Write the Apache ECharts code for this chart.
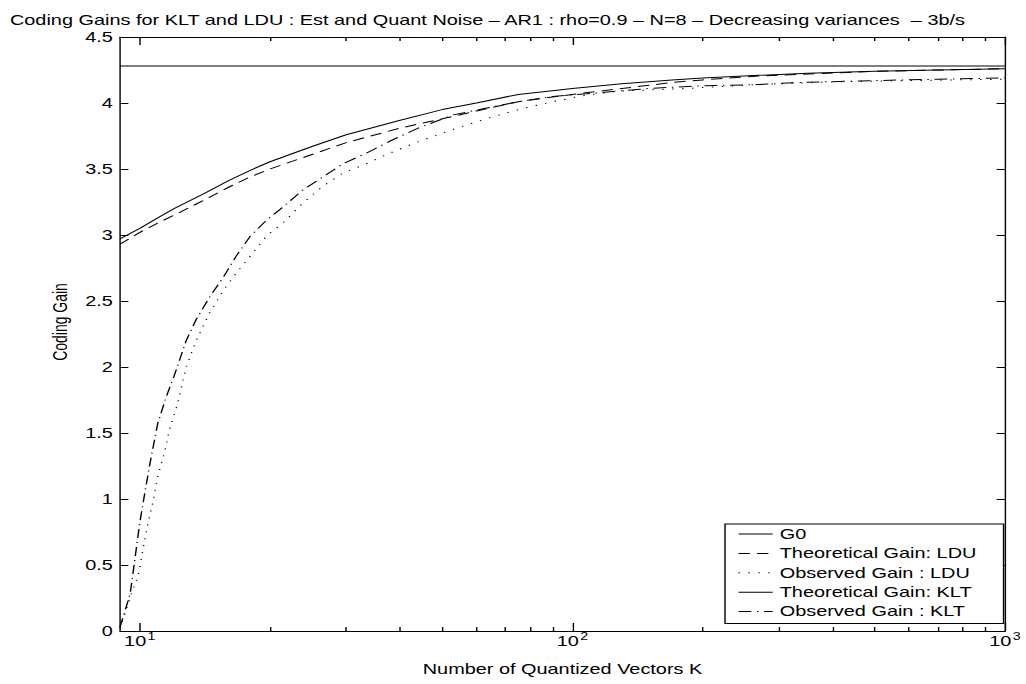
<!DOCTYPE html>
<html>
<head>
<meta charset="utf-8">
<title>Coding Gains for KLT and LDU</title>
<script src="https://cdn.jsdelivr.net/npm/echarts@6/dist/echarts.min.js"></script>
<style>
  html, body { margin: 0; padding: 0; background: #fff; overflow: hidden; }
  /* the figure is laid out on a narrower canvas and widened horizontally */
  #chart { width: 722px; height: 684px; transform: scaleX(1.42105); transform-origin: 0 0; }
</style>
</head>
<body>
<div id="chart"></div>
<script>
// ---- tick positions on the K axis ----
const kTicksMajor = [10, 100, 1000];
const kTicksMinor = [20, 30, 40, 50, 60, 70, 80, 90, 200, 300, 400, 500, 600, 700, 800, 900];

// ---- series names ----
const seriesNames = ['G0', 'Theoretical Gain: LDU', 'Observed Gain : LDU', 'Theoretical Gain: KLT', 'Observed Gain : KLT'];

// ---- G0 reference level ----
const kG0 = [9, 1000];
const gainG0 = [4.28, 4.28];

// ---- theoretical gains ----
const kTheory = [9, 10, 11, 12, 14, 16, 18, 20, 25, 30, 40, 50, 60, 75, 100, 130, 170, 200, 270, 350, 500, 700, 1000];
const gainKltTheory = [2.97, 3.05, 3.13, 3.20, 3.31, 3.41, 3.49, 3.555, 3.67, 3.76, 3.87, 3.95, 4.00, 4.065, 4.11, 4.145, 4.175, 4.19, 4.21, 4.225, 4.24, 4.25, 4.26];
const gainLduTheory = [2.93, 3.02, 3.09, 3.15, 3.26, 3.36, 3.44, 3.50, 3.61, 3.70, 3.81, 3.88, 3.94, 4.01, 4.065, 4.11, 4.155, 4.175, 4.205, 4.22, 4.24, 4.25, 4.26];

// ---- observed gain, KLT ----
const kObsKlt = [9, 9.5, 10, 10.3, 10.6, 11, 11.5, 12, 12.8, 13.5, 14.5, 15.6, 16.7, 18, 19.6, 21.4, 23.8, 26.5, 29.5, 33.4, 37.8, 44, 53, 63, 75, 90, 108, 150, 200, 270, 330, 500, 700, 1000];
const gainObsKlt = [0.03, 0.28, 0.82, 1.07, 1.30, 1.57, 1.77, 1.93, 2.20, 2.36, 2.53, 2.68, 2.84, 2.99, 3.11, 3.21, 3.34, 3.44, 3.54, 3.62, 3.71, 3.81, 3.91, 3.96, 4.01, 4.05, 4.07, 4.11, 4.13, 4.14, 4.155, 4.17, 4.18, 4.19];

// ---- observed gain, LDU ----
const kObsLdu = [9, 9.6, 9.9, 10.2, 10.45, 10.75, 11, 11.4, 11.7, 12.2, 12.8, 13.5, 14.5, 15.6, 16.7, 18, 19.6, 21.4, 23.8, 26.5, 29.5, 33.4, 37.8, 43.5, 53, 63, 75, 90, 108, 128, 153, 183, 270, 400, 600, 1000];
const gainObsLdu = [0.02, 0.30, 0.41, 0.64, 0.82, 0.99, 1.17, 1.35, 1.52, 1.71, 2.00, 2.20, 2.41, 2.58, 2.71, 2.84, 2.99, 3.09, 3.24, 3.37, 3.47, 3.54, 3.62, 3.70, 3.80, 3.88, 3.95, 4.01, 4.06, 4.09, 4.10, 4.11, 4.14, 4.16, 4.17, 4.18];

const FONT = "'Liberation Sans', Arial, Helvetica, sans-serif";
const BLACK = '#000';

function pairs(xs, ys) { return xs.map((x, i) => [x, ys[i]]); }

const chart = echarts.init(document.getElementById('chart'), null, { renderer: 'svg' });

const axisLineStyle = { color: BLACK, width: 1 };

function kAxis(position, ticks, tickLen, withLabels) {
  const ax = {
    type: 'log',
    logBase: 10,
    min: 9,
    max: 1000,
    position: position,
    axisLine: { show: tickLen > 5, onZero: false, lineStyle: axisLineStyle },
    axisTick: { show: true, inside: true, length: tickLen, customValues: ticks, lineStyle: axisLineStyle },
    axisLabel: { show: false },
    splitLine: { show: false },
    minorTick: { show: false }
  };
  if (withLabels) {
    ax.name = 'Number of Quantized Vectors K';
    ax.nameLocation = 'middle';
    ax.nameGap = 31;
    ax.nameTextStyle = { fontSize: 14, color: BLACK, fontFamily: FONT };
    ax.axisLabel = {
      show: true,
      customValues: ticks,
      margin: 1,
      formatter: function (v) {
        const e = Math.round(Math.log10(v));
        return '{b|10}{s|' + e + '}';
      },
      rich: {
        b: { fontSize: 14, lineHeight: 14, padding: [5, 0, 0, 0], color: BLACK, fontFamily: FONT },
        s: { fontSize: 10, lineHeight: 10, verticalAlign: 'top', padding: [0, 0, 0, 1], color: BLACK, fontFamily: FONT }
      }
    };
  }
  return ax;
}

function gainAxis(position, withLabels) {
  const ax = {
    type: 'value',
    min: 0,
    max: 4.5,
    interval: 0.5,
    position: position,
    axisLine: { show: true, onZero: false, lineStyle: axisLineStyle },
    axisTick: { show: true, inside: true, length: 5.9, lineStyle: axisLineStyle },
    axisLabel: { show: false },
    splitLine: { show: false }
  };
  if (withLabels) {
    ax.name = 'Coding Gain';
    ax.nameLocation = 'middle';
    ax.nameGap = 35;
    ax.nameTextStyle = { fontSize: 14, color: BLACK, fontFamily: FONT, padding: [0, 0, 0, 24] };
    ax.axisLabel = { show: true, margin: 5, fontSize: 14, color: BLACK, fontFamily: FONT };
  }
  return ax;
}

function lineSeries(name, data, dash) {
  return {
    name: name,
    type: 'line',
    xAxisIndex: 0,
    yAxisIndex: 0,
    data: data,
    symbol: 'none',
    showSymbol: false,
    smooth: false,
    lineStyle: { color: BLACK, width: 1, type: dash },
    itemStyle: { color: BLACK },
    emphasis: { disabled: true },
    z: 3
  };
}

chart.setOption({
  animation: false,
  backgroundColor: '#fff',
  textStyle: { fontFamily: FONT, color: BLACK },
  title: {
    text: 'Coding Gains for KLT and LDU : Est and Quant Noise \u2013 AR1 : rho=0.9 \u2013 N=8 \u2013 Decreasing variances  \u2013 3b/s',
    left: 7,
    top: 13,
    padding: 0,
    textStyle: { fontSize: 14, fontWeight: 'normal', color: BLACK, fontFamily: FONT }
  },
  grid: { left: 84.44, right: 14.8, top: 37, bottom: 53, containLabel: false },
  legend: {
    orient: 'vertical',
    left: 510.2,
    top: 524,
    padding: [3, 19, 5, 9],
    itemWidth: 24,
    itemHeight: 14,
    itemGap: 5.4,
    backgroundColor: '#fff',
    borderColor: BLACK,
    borderWidth: 1,
    borderRadius: 0,
    selectedMode: false,
    itemStyle: { opacity: 0 },
    lineStyle: { width: 1 },
    textStyle: { fontSize: 14, color: BLACK, fontFamily: FONT },
    data: seriesNames
  },
  xAxis: [
    kAxis('bottom', kTicksMajor, 8, true),
    kAxis('bottom', kTicksMinor, 4, false),
    kAxis('top', kTicksMajor, 8, false),
    kAxis('top', kTicksMinor, 4, false)
  ],
  yAxis: [
    gainAxis('left', true),
    gainAxis('right', false)
  ],
  series: [
    lineSeries(seriesNames[0], pairs(kG0, gainG0), 'solid'),
    lineSeries(seriesNames[1], pairs(kTheory, gainLduTheory), [8, 5]),
    lineSeries(seriesNames[2], pairs(kObsLdu, gainObsLdu), [1, 6]),
    lineSeries(seriesNames[3], pairs(kTheory, gainKltTheory), 'solid'),
    lineSeries(seriesNames[4], pairs(kObsKlt, gainObsKlt), [9, 4, 1, 4])
  ]
});
</script>
</body>
</html>
